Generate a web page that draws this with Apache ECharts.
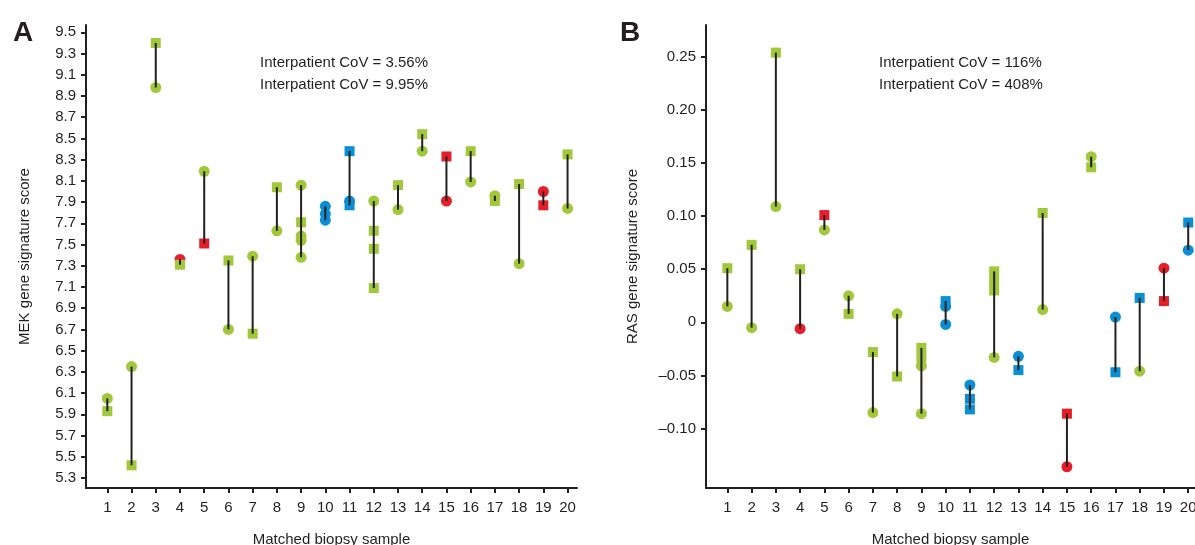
<!DOCTYPE html>
<html>
<head>
<meta charset="utf-8">
<script src="https://cdn.jsdelivr.net/npm/echarts@6/dist/echarts.min.js"></script>
<style>
html,body{margin:0;padding:0;background:#fff;}
#chart{width:1195px;height:545px;}
</style>
</head>
<body>
<div id="chart"></div>
<script>
// ---- data ----
const samples = [1,2,3,4,5,6,7,8,9,10,11,12,13,14,15,16,17,18,19,20];
const mekTicks = [5.3,5.5,5.7,5.9,6.1,6.3,6.5,6.7,6.9,7.1,7.3,7.5,7.7,7.9,8.1,8.3,8.5,8.7,8.9,9.1,9.3,9.5];
const rasTicks = [-0.10,-0.05,0,0.05,0.10,0.15,0.20,0.25];

// Panel A: MEK gene signature score  [sample, value]
const mekGreenCircle = [[1,6.05],[2,6.35],[3,8.98],[5,8.19],[6,6.70],[7,7.39],[8,7.63],[9,8.06],[9,7.58],[9,7.54],[9,7.38],[12,7.91],[13,7.83],[14,8.38],[16,8.09],[17,7.96],[18,7.32],[20,7.84]];
const mekGreenSquare = [[1,5.93],[2,5.42],[3,9.40],[4,7.31],[6,7.35],[7,6.66],[8,8.04],[9,7.71],[12,7.63],[12,7.46],[12,7.09],[13,8.06],[14,8.54],[16,8.38],[17,7.91],[18,8.07],[20,8.35]];
const mekRedCircle = [[4,7.36],[15,7.91],[19,8.00]];
const mekRedSquare = [[5,7.51],[15,8.33],[19,7.87]];
const mekBlueCircle = [[10,7.86],[10,7.79],[10,7.73],[11,7.91]];
const mekBlueSquare = [[11,8.38],[11,7.87]];

// Panel B: RAS gene signature score  [sample, value]
const rasGreenCircle = [[1,0.015],[2,-0.005],[3,0.109],[5,0.087],[6,0.025],[7,-0.085],[8,0.008],[9,-0.041],[9,-0.086],[12,-0.033],[14,0.012],[16,0.156],[18,-0.046]];
const rasGreenSquare = [[1,0.051],[2,0.073],[3,0.254],[4,0.050],[6,0.008],[7,-0.028],[8,-0.051],[9,-0.024],[9,-0.033],[12,0.048],[12,0.039],[12,0.030],[14,0.103],[16,0.146]];
const rasRedCircle = [[4,-0.006],[15,-0.136],[19,0.051]];
const rasRedSquare = [[5,0.101],[15,-0.086],[19,0.020]];
const rasBlueCircle = [[10,0.015],[10,-0.002],[11,-0.059],[13,-0.032],[17,0.005],[20,0.068]];
const rasBlueSquare = [[10,0.020],[11,-0.072],[11,-0.082],[13,-0.045],[17,-0.047],[18,0.023],[20,0.094]];

const annotA = ['Interpatient CoV = 3.56%','Interpatient CoV = 9.95%'];
const annotB = ['Interpatient CoV = 116%','Interpatient CoV = 408%'];

// ---- styling ----
const GREEN = '#a0c83a', RED = '#e61e2a', BLUE = '#0b8fd4', INK = '#231f20';
const FONT = '"Liberation Sans", Arial, sans-serif';

function spans(groups){
  const m = {};
  groups.forEach(g => g.forEach(([s,v]) => {
    if(!m[s]) m[s] = [v,v];
    m[s][0] = Math.min(m[s][0], v);
    m[s][1] = Math.max(m[s][1], v);
  }));
  return Object.keys(m).map(k => [Number(k), m[k][0], m[k][1]]);
}

function renderSpan(params, api){
  const a = api.coord([api.value(0), api.value(1)]);
  const b = api.coord([api.value(0), api.value(2)]);
  return {type:'line', shape:{x1:a[0],y1:a[1],x2:b[0],y2:b[1]}, style:{stroke:INK, lineWidth:2}};
}

function scatter(idx, data, color, shape){
  return {type:'scatter', xAxisIndex:idx, yAxisIndex:idx, data:data,
    symbol: shape, symbolSize: shape==='circle'?11:10,
    itemStyle:{color:color, opacity:1}, z: shape==='circle'?2:3, silent:true, animation:false};
}

const axisCommon = {
  axisLine:{show:true, onZero:false, lineStyle:{color:INK, width:2}},
  axisTick:{show:true, length:5, lineStyle:{color:INK, width:2}},
  splitLine:{show:false},
};

function xAxis(idx, max){
  return Object.assign({}, axisCommon, {
    type:'value', gridIndex:idx, min:0.12, max:max,
    name:'Matched biopsy sample', nameLocation:'middle', nameGap:44,
    nameTextStyle:{color:INK, fontSize:15, fontFamily:FONT},
    axisTick:Object.assign({}, axisCommon.axisTick, {customValues:samples}),
    axisLabel:{customValues:samples, color:INK, fontSize:15, fontFamily:FONT, margin:12},
  });
}

const option = {
  animation:false,
  backgroundColor:'#fff',
  grid:[
    {left:86, top:25, width:491, height:463, outerBoundsMode:'none', containLabel:false},
    {left:706, top:25, width:489, height:463, outerBoundsMode:'none', containLabel:false}
  ],
  xAxis:[ xAxis(0, 20.39), xAxis(1, 20.28) ],
  yAxis:[
    Object.assign({}, axisCommon, {
      type:'value', gridIndex:0, min:5.206, max:9.569,
      name:'MEK gene signature score', nameLocation:'middle', nameGap:54, nameRotate:90,
      nameTextStyle:{color:INK, fontSize:15, fontFamily:FONT},
      axisTick:Object.assign({}, axisCommon.axisTick, {customValues:mekTicks}),
      axisLabel:{customValues:mekTicks, color:INK, fontSize:15, fontFamily:FONT, margin:10,
        formatter:v => v.toFixed(1)}
    }),
    Object.assign({}, axisCommon, {
      type:'value', gridIndex:1, min:-0.156, max:0.28,
      name:'RAS gene signature score', nameLocation:'middle', nameGap:66, nameRotate:90,
      nameTextStyle:{color:INK, fontSize:15, fontFamily:FONT},
      axisTick:Object.assign({}, axisCommon.axisTick, {customValues:rasTicks}),
      axisLabel:{customValues:rasTicks, color:INK, fontSize:15, fontFamily:FONT, margin:10,
        formatter:v => Math.abs(v) < 1e-9 ? '0' : (v < 0 ? '\u2013' + Math.abs(v).toFixed(2) : v.toFixed(2))}
    })
  ],
  graphic:[
    {type:'text', left:13, top:19, style:{text:'A', font:'bold 28px ' + FONT, fill:INK}},
    {type:'text', left:620, top:19, style:{text:'B', font:'bold 28px ' + FONT, fill:INK}},
    {type:'text', left:260, top:52, style:{text:annotA.join('\n'), font:'15px ' + FONT, fill:INK, lineHeight:22}},
    {type:'text', left:879, top:52, style:{text:annotB.join('\n'), font:'15px ' + FONT, fill:INK, lineHeight:22}}
  ],
  series:[
    scatter(0, mekGreenCircle, GREEN, 'circle'),
    scatter(0, mekRedCircle, RED, 'circle'),
    scatter(0, mekBlueCircle, BLUE, 'circle'),
    scatter(0, mekGreenSquare, GREEN, 'rect'),
    scatter(0, mekRedSquare, RED, 'rect'),
    scatter(0, mekBlueSquare, BLUE, 'rect'),
    {type:'custom', xAxisIndex:0, yAxisIndex:0, z:5, silent:true,
      data: spans([mekGreenCircle,mekGreenSquare,mekRedCircle,mekRedSquare,mekBlueCircle,mekBlueSquare]),
      renderItem: renderSpan},
    scatter(1, rasGreenCircle, GREEN, 'circle'),
    scatter(1, rasRedCircle, RED, 'circle'),
    scatter(1, rasBlueCircle, BLUE, 'circle'),
    scatter(1, rasGreenSquare, GREEN, 'rect'),
    scatter(1, rasRedSquare, RED, 'rect'),
    scatter(1, rasBlueSquare, BLUE, 'rect'),
    {type:'custom', xAxisIndex:1, yAxisIndex:1, z:5, silent:true,
      data: spans([rasGreenCircle,rasGreenSquare,rasRedCircle,rasRedSquare,rasBlueCircle,rasBlueSquare]),
      renderItem: renderSpan}
  ]
};

const chart = echarts.init(document.getElementById('chart'), null, {renderer:'canvas'});
chart.setOption(option);
</script>
</body>
</html>
